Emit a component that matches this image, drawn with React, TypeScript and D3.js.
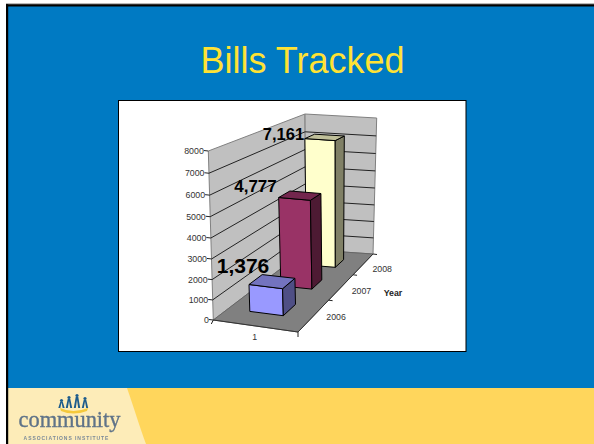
import React from "react";
import * as d3 from "d3";

const years = ["2006", "2007", "2008"];
const billCounts = [1376, 4777, 7161];
const billLabels = ["1,376", "4,777", "7,161"];
const valueTicks = [0, 1000, 2000, 3000, 4000, 5000, 6000, 7000, 8000];

type P = [number, number];
const W = 594, H = 444;

// Square -> quad homography (Heckbert)
function quad(p0: P, p1: P, p2: P, p3: P) {
  const dx1 = p1[0] - p2[0], dx2 = p3[0] - p2[0], sx = p0[0] - p1[0] + p2[0] - p3[0];
  const dy1 = p1[1] - p2[1], dy2 = p3[1] - p2[1], sy = p0[1] - p1[1] + p2[1] - p3[1];
  const den = dx1 * dy2 - dx2 * dy1;
  const g = (sx * dy2 - dx2 * sy) / den, h = (dx1 * sy - sx * dy1) / den;
  const a = p1[0] - p0[0] + g * p1[0], b = p3[0] - p0[0] + h * p3[0], c = p0[0];
  const d = p1[1] - p0[1] + g * p1[1], e = p3[1] - p0[1] + h * p3[1], f = p0[1];
  return (u: number, v: number): P => {
    const w = g * u + h * v + 1;
    return [(a * u + b * v + c) / w, (d * u + e * v + f) / w];
  };
}
// corners: front-left, front-right, back-right, back-left
const floor = quad([213.3, 320], [298, 332], [373, 254], [306, 249.5]);
const ceil = quad([208.3, 151], [293, 160], [376.7, 118], [305, 114]);
const ease = (t: number) => (t * (1 - 0.0575)) / (1 - 0.0575 * t);
const valueScale = d3.scaleLinear().domain([0, 8000]).range([0, 1]);
const depthBand = d3.scaleBand<string>().domain(years).range([0, 1]).paddingInner(0.6).paddingOuter(0.4);
const uBand = d3.scaleBand<string>().domain(["1"]).range([0, 1]).padding(0.418).align(0.47);

function project(u: number, v: number, value: number): P {
  const f = floor(u, v), c = ceil(u, v), t = ease(valueScale(value));
  return [f[0] + (c[0] - f[0]) * t, f[1] + (c[1] - f[1]) * t];
}
const pts = (a: P[]) => a.map((p) => p.map((n) => n.toFixed(1)).join(",")).join(" ");

const barColors = [
  { front: "#9999FF", top: "#7373BF", side: "#4F4F85" },
  { front: "#993366", top: "#73264D", side: "#4D1A33" },
  { front: "#FFFFCC", top: "#BFBF99", side: "#808066" },
];
const labelPos: { x: number; y: number; size: number }[] = [
  { x: 243, y: 272.5, size: 21 },
  { x: 255.5, y: 191.5, size: 17 },
  { x: 283.5, y: 140, size: 16.5 },
];
const arial = "'Liberation Sans', Arial, sans-serif";
const crownPeople = [
  { x: 61.5, h: 5 },
  { x: 69, h: 8 },
  { x: 77, h: 10 },
  { x: 85, h: 7 },
];

export default function App() {
  const wallL = pts([project(0, 0, 0), project(0, 0, 8000), project(0, 1, 8000), project(0, 1, 0)]);
  const wallB = pts([project(0, 1, 0), project(0, 1, 8000), project(1, 1, 8000), project(1, 1, 0)]);
  const flr = pts([project(0, 0, 0), project(1, 0, 0), project(1, 1, 0), project(0, 1, 0)]);
  const u0 = uBand("1")!, u1 = u0 + uBand.bandwidth();
  const fl = project(0, 0, 0), fr = project(1, 0, 0);
  return (
    <svg width={W} height={H} style={{ position: "absolute", left: 0, top: 0 }}>
      <defs>
        <filter id="soft"><feGaussianBlur stdDeviation="0.45" /></filter>
      </defs>
      <rect x={0} y={0} width={W} height={H} fill="#FFFFFF" />
      <rect x={8} y={6} width={W - 8} height={H - 6} fill="#007AC3" />
      <rect x={8} y={388} width={W - 8} height={56} fill="#FFD65C" />
      <path d="M8,388 H127 C134,408 140,428 146,444 H8 Z" fill="#FDECB8" />
      <rect x={6} y={3} width={W - 6} height={1.2} fill="#B9B9B9" />
      <rect x={6} y={4.2} width={W - 6} height={2.3} fill="#000" />
      <rect x={6} y={4.2} width={2.2} height={H} fill="#000" />
      <text x={302.5} y={73.3} textAnchor="middle" fontFamily={arial} fontSize={36} fill="#FFE234">Bills Tracked</text>
      <rect x={118.5} y={100.5} width={347.5} height={251} fill="#fff" stroke="#000" strokeWidth={1} />
      <polygon points={wallL} fill="#C0C0C0" stroke="#808080" />
      <polygon points={wallB} fill="#C0C0C0" stroke="#808080" />
      <polygon points={flr} fill="#808080" stroke="#666" />
      <line x1={fl[0]} y1={fl[1]} x2={fl[0] - 2} y2={fl[1] + 4} stroke="#222" />
      <line x1={fr[0]} y1={fr[1]} x2={fr[0]} y2={fr[1] + 5} stroke="#222" />
      <line x1={fl[0]} y1={fl[1]} x2={fr[0]} y2={fr[1]} stroke="#333" />
      <line x1={fr[0]} y1={fr[1]} x2={project(1, 1, 0)[0]} y2={project(1, 1, 0)[1]} stroke="#333" />
      {[1 / 3, 2 / 3, 1].map((v) => {
        const p = project(1, v, 0);
        return <line key={v} x1={p[0]} y1={p[1]} x2={p[0] + 4} y2={p[1] + 0.5} stroke="#222" />;
      })}
      {valueTicks.map((t) => {
        const a = project(0, 0, t), b = project(0, 1, t), c = project(1, 1, t);
        return (
          <g key={t}>
            {t > 0 && t < 8000 && <polyline points={pts([a, b, c])} fill="none" stroke="#222" strokeWidth={1} />}
            <line x1={a[0] - 4.5} y1={a[1] - 0.5} x2={a[0]} y2={a[1]} stroke="#222" />
            <text x={a[0] - 4.5} y={a[1] + 3} textAnchor="end" fontFamily={arial} fontSize={8.8} fill="#333">{t}</text>
          </g>
        );
      })}
      {years.map((y, i) => i).reverse().map((i) => {
        const v0 = depthBand(years[i])!, v1 = v0 + depthBand.bandwidth(), val = billCounts[i], col = barColors[i];
        return (
          <g key={i} stroke="#000" strokeWidth={1} strokeLinejoin="round">
            <polygon fill={col.front} points={pts([project(u0, v0, 0), project(u1, v0, 0), project(u1, v0, val), project(u0, v0, val)])} />
            <polygon fill={col.side} points={pts([project(u1, v0, 0), project(u1, v1, 0), project(u1, v1, val), project(u1, v0, val)])} />
            <polygon fill={col.top} points={pts([project(u0, v0, val), project(u1, v0, val), project(u1, v1, val), project(u0, v1, val)])} />
          </g>
        );
      })}
      {billLabels.map((l, i) => (
        <text key={l} x={labelPos[i].x} y={labelPos[i].y} textAnchor="middle" fontFamily={arial} fontWeight="bold" fontSize={labelPos[i].size} fill="#000">{l}</text>
      ))}
      <text x={254.7} y={340} textAnchor="middle" fontFamily={arial} fontSize={8.8} fill="#333">1</text>
      {years.map((y) => {
        const p = project(1, depthBand(y)! + depthBand.bandwidth() / 2, 0);
        return <text key={y} x={p[0] + 20} y={p[1] + 7} textAnchor="middle" fontFamily={arial} fontSize={8.8} fill="#333">{y}</text>;
      })}
      <text x={393} y={296} textAnchor="middle" fontFamily={arial} fontWeight="bold" fontSize={8.8} fill="#222">Year</text>
      <g filter="url(#soft)">
        <path d="M60,408 Q73,414 88,408 L87,411 Q73,416 61,411 Z" fill="#F5C93A" />
        {crownPeople.map((p) => (
          <g key={p.x} fill="#1F5C8C">
            <circle cx={p.x} cy={407 - p.h - 1.5} r={1.6} />
            <path d={`M${p.x - 3.2},408 L${p.x - 1.3},${407 - p.h} H${p.x + 1.3} L${p.x + 3.2},408 H${p.x + 1.2} L${p.x},${405 - p.h / 2} L${p.x - 1.2},408 Z`} />
          </g>
        ))}
        <text x={69.5} y={427} textAnchor="middle" fontFamily="'Liberation Serif', serif" fontSize={22.4} stroke="#5F7388" strokeWidth={0.35} fill="#5F7388">community</text>
        <text x={66.5} y={439.5} textAnchor="middle" fontFamily={arial} fontSize={5} fontWeight="bold" letterSpacing={0.95} fill="#7C8B99">ASSOCIATIONS INSTITUTE</text>
      </g>
    </svg>
  );
}
